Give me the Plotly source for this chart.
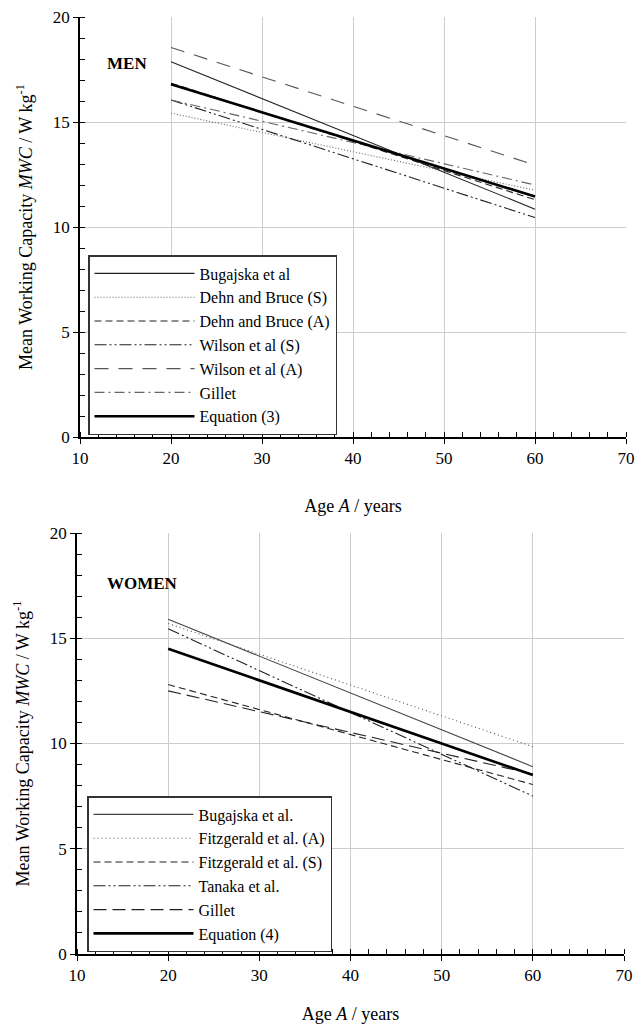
import plotly.graph_objects as go

W, H = 635, 1024

# ---------------- data ----------------
ages = [20, 60]

men_names = ["Bugajska et al", "Dehn and Bruce (S)", "Dehn and Bruce (A)",
             "Wilson et al (S)", "Wilson et al (A)", "Gillet", "Equation (3)"]
men_values = [
    [17.87, 10.85],
    [15.42, 11.75],
    [16.85, 11.30],
    [16.05, 10.45],
    [18.55, 12.95],
    [16.05, 12.00],
    [16.80, 11.45],
]

women_names = ["Bugajska et al.", "Fitzgerald et al. (A)", "Fitzgerald et al. (S)",
               "Tanaka et al.", "Gillet", "Equation (4)"]
women_values = [
    [15.90, 8.90],
    [15.70, 9.85],
    [12.80, 8.05],
    [15.45, 7.50],
    [12.50, 8.55],
    [14.50, 8.50],
]

x_ticks = [10, 20, 30, 40, 50, 60, 70]
y_ticks = [0, 5, 10, 15, 20]

# ---------------- styles ----------------
men_styles = [
    dict(color="#222222", width=1.1, dash="solid"),
    dict(color="#666666", width=1.1, dash="1px,2px"),
    dict(color="#222222", width=1.1, dash="7px,4px"),
    dict(color="#222222", width=1.1, dash="12px,3px,2px,3px,2px,3px"),
    dict(color="#555555", width=1.1, dash="14px,10px"),
    dict(color="#666666", width=1.1, dash="10px,4px,2px,4px"),
    dict(color="#000000", width=2.6, dash="solid"),
]
women_styles = [
    dict(color="#444444", width=1.1, dash="solid"),
    dict(color="#555555", width=1.1, dash="1px,3px"),
    dict(color="#222222", width=1.1, dash="7px,4px"),
    dict(color="#222222", width=1.1, dash="12px,3px,2px,3px,2px,3px"),
    dict(color="#222222", width=1.1, dash="13px,6px"),
    dict(color="#000000", width=2.6, dash="solid"),
]

FONT = "Liberation Serif"

fig = go.Figure()
for name, vals, st in zip(men_names, men_values, men_styles):
    fig.add_trace(go.Scatter(x=ages, y=vals, mode="lines", name=name, line=st,
                             xaxis="x", yaxis="y", legend="legend"))
for name, vals, st in zip(women_names, women_values, women_styles):
    fig.add_trace(go.Scatter(x=ages, y=vals, mode="lines", name=name, line=st,
                             xaxis="x2", yaxis="y2", legend="legend2"))


def px_x(p):
    return p / W


def px_y(p):
    return 1 - p / H


axis_common = dict(
    showline=True, linecolor="black", linewidth=1.5, mirror=False,
    showgrid=True, gridcolor="#cccccc", gridwidth=1,
    zeroline=False, ticks="outside", ticklen=5, tickcolor="black", tickwidth=1,
    tickfont=dict(family=FONT, size=17, color="black"),
    automargin=False,
)

xtitle = dict(text="Age <i>A</i> / years", font=dict(family=FONT, size=18, color="black"), standoff=32)
ytitle = dict(text="Mean Working Capacity <i>MWC</i> / W kg<sup>-1</sup>",
              font=dict(family=FONT, size=18, color="black"), standoff=16)

legend_font = dict(family=FONT, size=16, color="black")

fig.update_layout(
    width=W, height=H,
    margin=dict(l=0, r=0, t=0, b=0),
    paper_bgcolor="white", plot_bgcolor="white",
    font=dict(family=FONT, color="black"),
    xaxis=dict(domain=[px_x(80), px_x(626)], range=[10, 70], tickvals=x_ticks,
               anchor="y", title=xtitle,
               minor=dict(dtick=2, ticks="inside", ticklen=5, tickcolor="black", showgrid=False),
               **axis_common),
    yaxis=dict(domain=[px_y(437), px_y(17)], range=[0, 20], tickvals=y_ticks,
               anchor="x", title=ytitle,
               minor=dict(dtick=1, ticks="inside", ticklen=5, tickcolor="black", showgrid=False),
               **axis_common),
    xaxis2=dict(domain=[px_x(77), px_x(624)], range=[10, 70], tickvals=x_ticks,
                anchor="y2", title=xtitle,
                minor=dict(dtick=2, ticks="inside", ticklen=5, tickcolor="black", showgrid=False),
                **axis_common),
    yaxis2=dict(domain=[px_y(954), px_y(533)], range=[0, 20], tickvals=y_ticks,
                anchor="x2", title=ytitle,
                minor=dict(dtick=1, ticks="inside", ticklen=5, tickcolor="black", showgrid=False),
                **axis_common),
    legend=dict(x=px_x(88), y=px_y(255), xanchor="left", yanchor="top",
                bgcolor="white", bordercolor="#333333", borderwidth=1.5,
                font=legend_font, itemwidth=100, tracegroupgap=0),
    legend2=dict(x=px_x(87), y=px_y(796), xanchor="left", yanchor="top",
                 bgcolor="white", bordercolor="#333333", borderwidth=1.5,
                 font=legend_font, itemwidth=100, tracegroupgap=0),
    annotations=[
        dict(text="<b>MEN</b>", x=12.75, y=17.8, xref="x", yref="y", xanchor="left",
             yanchor="middle", showarrow=False, font=dict(family=FONT, size=17, color="black")),
        dict(text="<b>WOMEN</b>", x=13.05, y=17.6, xref="x2", yref="y2", xanchor="left",
             yanchor="middle", showarrow=False, font=dict(family=FONT, size=17, color="black")),
    ],
)

fig.write_html("out.html")
